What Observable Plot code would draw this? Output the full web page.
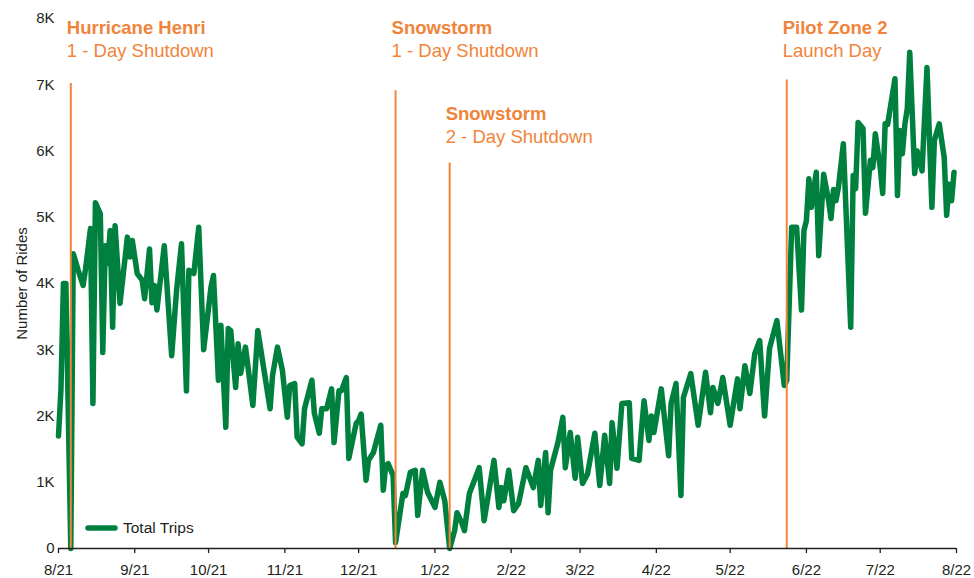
<!DOCTYPE html>
<html><head><meta charset="utf-8">
<script src="https://cdn.jsdelivr.net/npm/d3@7"></script>
<script src="https://cdn.jsdelivr.net/npm/@observablehq/plot@0.6"></script>
<style>
body{margin:0;background:#fff;font-family:"Liberation Sans",Arial,Helvetica,sans-serif;}
#wrap{position:relative;width:974px;height:578px;overflow:hidden;background:#fff}
#legend{position:absolute;left:83px;top:518px;height:20px;display:flex;align-items:center;font-size:15.5px;color:#231f20}
#legend svg{margin-right:3px}
</style></head><body><div id="wrap"></div>
<script>
const startDate = "2021-08-01";
const dayOffsets = [
  0,1,2,3,5,6,8,10,11,13,
  14,15,17,18,19,20,21,22,23,25,
  28,29,30,32,34,35,37,38,39,40,
  43,46,48,50,52,53,55,57,59,62,
  63,65,66,68,69,70,72,73,74,76,
  79,81,86,87,89,91,93,94,96,97,
  99,100,103,104,106,107,109,111,112,114,
  115,117,118,121,122,123,125,126,128,131,
  132,133,134,136,137,140,141,143,145,146,
  148,150,153,155,157,159,161,162,164,165,
  167,171,173,177,179,180,181,183,185,187,
  190,193,195,196,198,199,200,203,205,206,
  208,210,211,213,215,218,220,222,224,225,
  227,229,232,233,236,237,238,240,241,242,
  245,248,249,251,253,254,257,260,263,265,
  266,268,270,273,276,277,279,281,283,285,
  287,289,292,295,296,298,300,302,303,304,
  305,306,308,309,311,313,314,315,316,317,
  319,322,323,324,325,327,328,330,331,332,
  334,335,336,337,340,341,342,343,344,345,
  346,348,349,351,353,355,356,358,360,361,
  362,363,364
];
const rides = [
  1700,2400,4000,4000,0,4450,4200,3970,4220,4830,
  2190,5220,5050,2960,4570,4300,4800,3340,4870,3700,
  4700,4400,4650,4150,4050,3770,4520,3710,3970,3600,
  4570,2910,3900,4600,2380,4200,4150,4850,3000,3950,
  4120,2540,3370,1830,3320,3290,2430,3090,2640,3040,
  2160,3290,2110,2610,3040,2690,1980,2460,2490,1680,
  1580,2110,2540,2040,1740,2110,2110,2410,1600,2380,
  2380,2580,1360,1890,1930,2030,1030,1330,1450,1860,
  880,1250,1280,1100,90,830,800,1150,1180,500,
  1180,850,620,1000,720,0,270,540,380,270,
  830,1220,420,1330,620,920,720,1180,570,680,
  1220,920,1330,650,1450,540,1180,1600,1980,1220,
  1750,1060,1680,980,1120,1740,950,1710,980,1900,
  1210,2190,2200,1360,1330,1810,2230,1630,2000,1750,
  2410,1400,2190,2490,800,2280,2640,1860,2660,2050,
  2430,2190,2580,1860,2560,2110,2760,2340,2940,3140,
  2000,3020,3440,2460,2540,4850,4850,3600,4800,4950,
  5580,5150,5680,4420,5650,5250,4980,5420,5250,5450,
  6110,3340,5630,5430,6430,6340,5060,5860,5750,6260,
  5750,5360,6410,6400,7090,5330,6310,5960,6400,6640,
  7490,5660,6000,5700,7260,5150,6160,6410,5900,5030,
  5500,5250,5680
];
const eventNames = ["Hurricane Henri", "Snowstorm", "Snowstorm", "Pilot Zone 2"];
const eventNotes = ["1 - Day Shutdown", "1 - Day Shutdown", "2 - Day Shutdown", "Launch Day"];
const eventDays = [5, 137, 159, 296];
const eventLineTops = [7020, 6910, 5820, 7070];
const eventLabelLevels = [7860, 7860, 6560, 7860];
const monthTicks = ["2021-08-01","2021-09-01","2021-10-01","2021-11-01","2021-12-01","2022-01-01",
  "2022-02-01","2022-03-01","2022-04-01","2022-05-01","2022-06-01","2022-07-01","2022-08-01"];
const tickLabels = ["8/21","9/21","10/21","11/21","12/21","1/22","2/22","3/22","4/22","5/22","6/22","7/22","8/22"];
const yTicks = [0,1000,2000,3000,4000,5000,6000,7000,8000];
const yTickLabels = ["0","1K","2K","3K","4K","5K","6K","7K","8K"];
const seriesName = "Total Trips";

const GREEN = "#00803e", ORANGE = "#f0843a", INK = "#231f20";
const day0 = new Date(startDate + "T00:00:00Z");
const toDate = d => new Date(day0.getTime() + d * 864e5);
const series = dayOffsets.map((d, i) => ({date: toDate(d), rides: rides[i]}));
const events = eventNames.map((n, i) => ({name: n, note: eventNotes[i], date: toDate(eventDays[i]), top: eventLineTops[i], level: eventLabelLevels[i]}));
const tickDates = monthTicks.map(s => new Date(s + "T00:00:00Z"));
const xLab = new Map(tickDates.map((d, i) => [+d, tickLabels[i]]));
const yLab = new Map(yTicks.map((v, i) => [v, yTickLabels[i]]));

const chart = Plot.plot({
  width: 974, height: 578,
  marginLeft: 58, marginRight: 18, marginTop: 18, marginBottom: 30,
  style: {fontFamily: '"Liberation Sans", Arial, Helvetica, sans-serif', fontSize: "15px", color: INK, background: "white"},
  x: {type: "utc", domain: [tickDates[0], tickDates[tickDates.length - 1]]},
  y: {domain: [0, 8000]},
  marks: [
    Plot.axisX({ticks: tickDates, tickFormat: d => xLab.get(+d), tickSize: 5, tickPadding: 11, label: null, stroke: INK, strokeWidth: 1.3}),
    Plot.axisY({ticks: yTicks, tickFormat: d => yLab.get(d), tickSize: 0, tickPadding: 4, label: "Number of Rides", labelAnchor: "center", labelArrow: "none", labelOffset: 42}),
    Plot.line(series, {x: "date", y: "rides", stroke: GREEN, strokeWidth: 5.5, strokeLinejoin: "round", strokeLinecap: "round"}),
    Plot.ruleX(events, {x: "date", y1: 0, y2: "top", stroke: ORANGE, strokeWidth: 2}),
    Plot.ruleY([0], {stroke: INK, strokeWidth: 1.5}),
    Plot.text(events, {x: "date", y: "level", text: "name", textAnchor: "start", lineAnchor: "middle", dx: -4, fill: ORANGE, fontWeight: "bold", fontSize: 18.5}),
    Plot.text(events, {x: "date", y: "level", text: "note", textAnchor: "start", lineAnchor: "middle", dx: -4, dy: 23, fill: ORANGE, fontSize: 18.5})
  ]
});
const wrap = document.getElementById("wrap");
wrap.appendChild(chart);
const leg = document.createElement("div");
leg.id = "legend";
leg.innerHTML = `<svg width="37" height="10"><line x1="5" y1="5" x2="32" y2="5" stroke="${GREEN}" stroke-width="5.5" stroke-linecap="round"/></svg><span></span>`;
leg.querySelector("span").textContent = seriesName;
wrap.appendChild(leg);
</script></body></html>
